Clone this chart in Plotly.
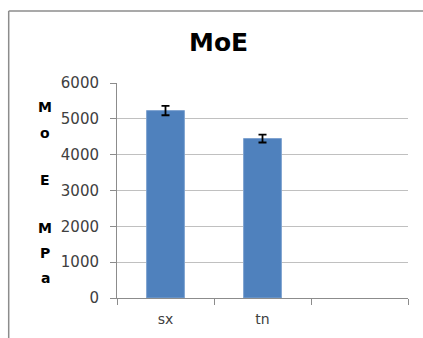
import plotly.graph_objects as go

categories = ["sx", "tn", " "]
moe_values = [5230, 4450, None]
moe_errors = [130, 110, 0]
y_ticks = [0, 1000, 2000, 3000, 4000, 5000, 6000]
y_title_letters = ["M", "o", "E", "M", "P", "a"]

W, H = 423, 338
ML, MR, MT, MB = 117, 15, 83, 40
PW, PH = W - ML - MR, H - MT - MB

def px(x):
    return (x - ML) / PW

def py(y):
    return (H - MB - y) / PH

fig = go.Figure(go.Bar(
    x=categories, y=moe_values,
    marker=dict(color="#4F81BD", line=dict(color="#7FA3D0", width=1)),
    error_y=dict(type="data", array=moe_errors, visible=True,
                 color="black", thickness=1.8, width=4),
    width=0.39,
))

letter_y = [107, 133, 180, 228, 253, 278]
annotations = [dict(text="<b>MoE</b>", x=px(218), y=py(43), xref="paper", yref="paper",
                    showarrow=False, font=dict(family="DejaVu Sans", size=25, color="black"),
                    xanchor="center", yanchor="middle")]
for letter, ly in zip(y_title_letters, letter_y):
    annotations.append(dict(text="<b>%s</b>" % letter, x=px(45), y=py(ly),
                            xref="paper", yref="paper", showarrow=False,
                            font=dict(family="DejaVu Sans", size=14, color="black"),
                            xanchor="center", yanchor="middle"))

border = dict(color="#8c8c8c", width=1.5)
fig.update_layout(
    width=W, height=H,
    margin=dict(l=ML, r=MR, t=MT, b=MB),
    paper_bgcolor="white", plot_bgcolor="white",
    showlegend=False,
    annotations=annotations,
    shapes=[
        dict(type="line", xref="paper", yref="paper",
             x0=px(8.7), x1=px(430), y0=py(11), y1=py(11), line=border, layer="below"),
        dict(type="line", xref="paper", yref="paper",
             x0=px(8.7), x1=px(8.7), y0=py(11), y1=py(345), line=border, layer="below"),
    ],
    xaxis=dict(
        type="category", range=[-0.5, 2.5],
        showgrid=False, showline=True, linecolor="#8c8c8c", linewidth=1,
        ticks="outside", ticklen=6, tickcolor="#8c8c8c", tickson="boundaries",
        tickfont=dict(family="DejaVu Sans", size=14, color="#404040"),
        ticklabelstandoff=8,
    ),
    yaxis=dict(
        range=[0, 6000], tickvals=y_ticks,
        showgrid=True, gridcolor="#c0c0c0", gridwidth=1,
        showline=True, linecolor="#8c8c8c", linewidth=1,
        ticks="outside", ticklen=6, tickcolor="#8c8c8c",
        tickfont=dict(family="DejaVu Sans", size=15, color="#404040"),
        ticklabelstandoff=8, zeroline=False,
    ),
)

fig.write_html("out.html", config={"displayModeBar": False},
               post_script="document.body.style.margin='0';document.body.style.overflow='hidden';")
